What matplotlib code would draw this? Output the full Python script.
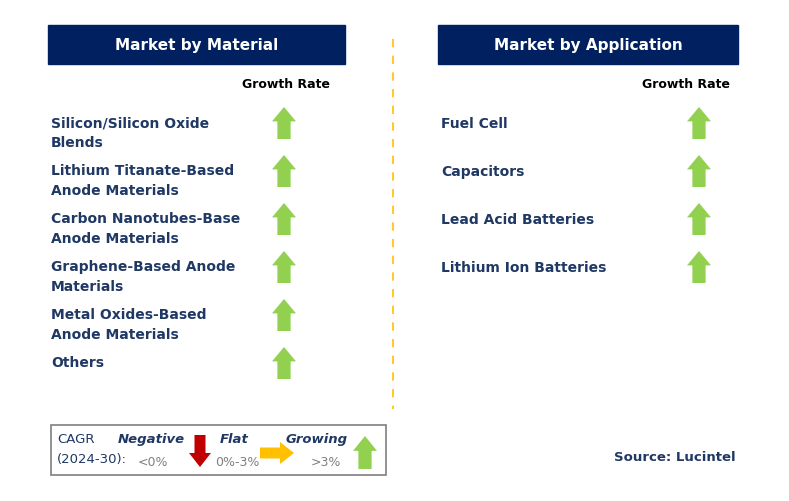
import matplotlib.pyplot as plt
from matplotlib.patches import Rectangle, FancyArrow

material = ["Silicon/Silicon Oxide\nBlends", "Lithium Titanate-Based\nAnode Materials",
            "Carbon Nanotubes-Base\nAnode Materials", "Graphene-Based Anode\nMaterials",
            "Metal Oxides-Based\nAnode Materials", "Others"]
material_trend = ["up"] * 6
application = ["Fuel Cell", "Capacitors", "Lead Acid Batteries", "Lithium Ion Batteries"]
application_trend = ["up"] * 4

navy = "#002060"
green = "#92D050"
txt = "#1F3864"

fig = plt.figure(figsize=(7.89, 5.02), dpi=100)
ax = fig.add_axes([0, 0, 1, 1])
ax.set_xlim(0, 789)
ax.set_ylim(502, 0)
ax.axis("off")

def up_arrow(x, ytop, h=32, w=24, c=green):
    ax.add_patch(FancyArrow(x, ytop + h, 0, -h, width=w * 0.55, head_width=w,
                            head_length=h * 0.45, length_includes_head=True, color=c, lw=0))

# headers
for x0, w, title in [(48, 297, "Market by Material"), (438, 300, "Market by Application")]:
    ax.add_patch(Rectangle((x0, 26), w, 39, color=navy))
    ax.text(x0 + w / 2, 45.5, title, color="white", fontsize=11, fontweight="bold",
            ha="center", va="center")

ax.text(286, 85, "Growth Rate", fontsize=9, fontweight="bold", ha="center", va="center")
ax.text(686, 85, "Growth Rate", fontsize=9, fontweight="bold", ha="center", va="center")

for i, (name, t) in enumerate(zip(material, material_trend)):
    y = 133 + 48 * i
    if "\n" in name:
        ax.text(51, y, name, fontsize=10, fontweight="bold", color=txt, va="center",
                linespacing=1.5)
    else:
        ax.text(51, y - 10, name, fontsize=10, fontweight="bold", color=txt, va="center")
    up_arrow(284, y - 25)

for i, (name, t) in enumerate(zip(application, application_trend)):
    y = 124 + 48 * i
    ax.text(441, y, name, fontsize=10, fontweight="bold", color=txt, va="center")
    up_arrow(699, y - 16)

ax.plot([393, 393], [40, 410], color="#FFC000", lw=1.2, ls=(0, (5, 5)))

# legend box
ax.add_patch(Rectangle((51, 426), 335, 50, fill=False, ec="#7F7F7F", lw=1.2))
ax.text(57, 440, "CAGR", fontsize=9.5, color=txt, va="center")
ax.text(57, 460, "(2024-30):", fontsize=9.5, color=txt, va="center")
ax.text(151, 440, "Negative", fontsize=9.5, color=txt, style="italic", fontweight="bold", ha="center", va="center")
ax.text(153, 463, "<0%", fontsize=9, color="#7F7F7F", ha="center", va="center")
ax.add_patch(FancyArrow(200, 436, 0, 32, width=11, head_width=22, head_length=14,
                        length_includes_head=True, color="#C00000", lw=0))
ax.text(234, 440, "Flat", fontsize=9.5, color=txt, style="italic", fontweight="bold", ha="center", va="center")
ax.text(237, 463, "0%-3%", fontsize=9, color="#7F7F7F", ha="center", va="center")
ax.add_patch(FancyArrow(260, 454, 34, 0, width=11, head_width=22, head_length=14,
                        length_includes_head=True, color="#FFC000", lw=0))
ax.text(317, 440, "Growing", fontsize=9.5, color=txt, style="italic", fontweight="bold", ha="center", va="center")
ax.text(326, 463, ">3%", fontsize=9, color="#7F7F7F", ha="center", va="center")
up_arrow(365, 437, h=33, w=24)

ax.text(675, 458, "Source: Lucintel", fontsize=9.5, fontweight="bold", color=txt, ha="center", va="center")

fig.savefig("out.png", dpi=100)
